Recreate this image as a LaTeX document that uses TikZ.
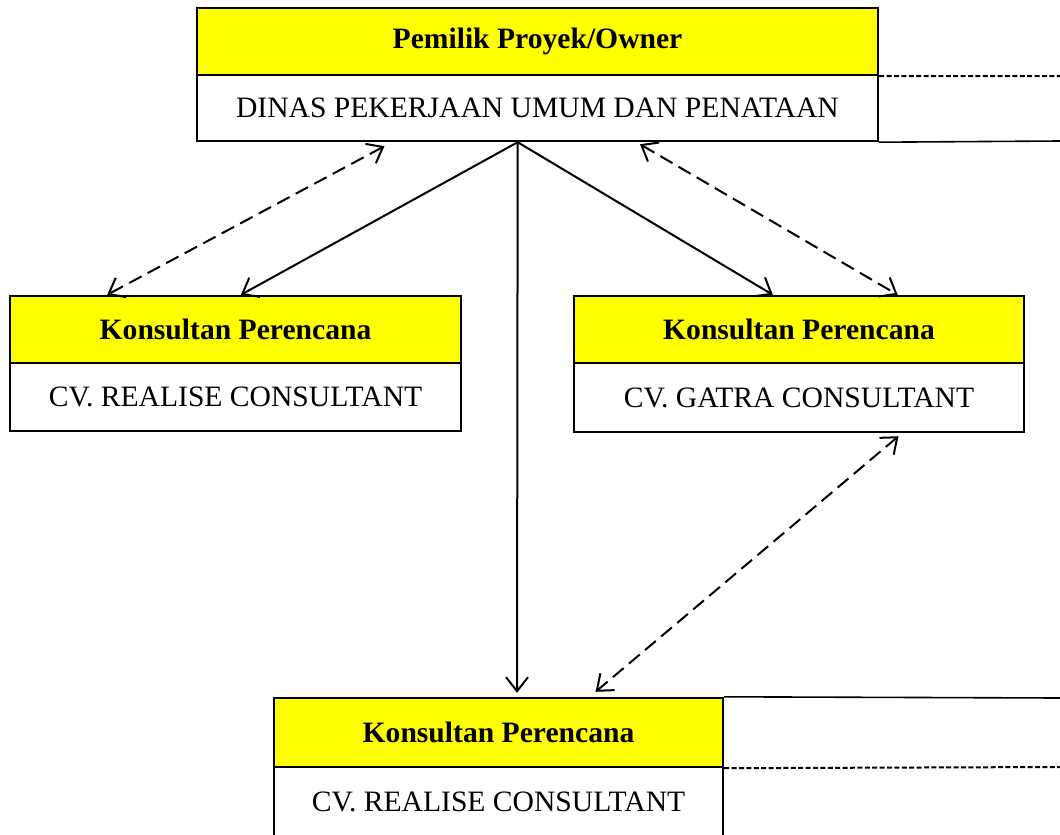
\documentclass[tikz,border=0pt]{standalone}
\usepackage{fontspec}
\setmainfont{Liberation Serif}
\usetikzlibrary{arrows.meta,calc}

\definecolor{hdryellow}{RGB}{255,255,0}

\tikzset{
  barb/.tip={Straight Barb[length=7pt,width=11pt,line width=1pt]},
  head/.style={draw, line width=1.2pt, fill=hdryellow, inner sep=0pt,
    font=\bfseries\fontsize{14.8}{16}\selectfont},
  body/.style={draw, line width=1.2pt, fill=white, inner sep=0pt,
    font=\fontsize{14.8}{16}\selectfont},
  link/.style={line width=1pt, -barb},
  dlink/.style={line width=1pt, barb-barb, dash pattern=on 7pt off 3.5pt},
  side/.style={line width=0.8pt},
  dside/.style={line width=1pt, dash pattern=on 2.5pt off 1.2pt},
}

\begin{document}
\begin{tikzpicture}[x=0.5pt, y=-0.5pt]
  \useasboundingbox (0,0) rectangle (1060,835);
  % owner
  \node[head, minimum width=340.5pt, minimum height=33.5pt] (ownerhead)
    at (537.5,41.5) {Pemilik Proyek/Owner};
  \node[body, minimum width=340.5pt, minimum height=33pt] (ownerbody)
    at (537.5,108) {DINAS PEKERJAAN UMUM DAN PENATAAN};
  % left consultant
  \node[head, minimum width=225.5pt, minimum height=33.5pt] (lefthead)
    at (235.5,329.5) {Konsultan Perencana};
  \node[body, minimum width=225.5pt, minimum height=34pt] (leftbody)
    at (235.5,397) {CV. REALISE CONSULTANT};
  % right consultant
  \node[head, minimum width=225pt, minimum height=33.5pt] (righthead)
    at (799,329.5) {Konsultan Perencana};
  \node[body, minimum width=225pt, minimum height=34.5pt] (rightbody)
    at (799,397.5) {CV. GATRA CONSULTANT};
  % bottom consultant
  \node[head, minimum width=224.5pt, minimum height=34.5pt] (bottomhead)
    at (498.5,732.5) {Konsultan Perencana};
  \node[body, minimum width=224.5pt, minimum height=35pt] (bottombody)
    at (498.5,802) {CV. REALISE CONSULTANT};

  \coordinate (e1) at (1060,76);
  \coordinate (e2) at (1060,141);
  \coordinate (e3) at (1060,698);
  \coordinate (e4) at (1060,767);

  \draw[dside] (ownerhead.south east) -- (e1);
  \draw[side] (ownerbody.south east) -- (e2);
  \draw[side] (bottomhead.north east) -- (e3);
  \draw[dside] (bottomhead.south east) -- (e4);

  % solid lines from owner
  \coordinate (src) at ($(ownerbody.south west)!.471!(ownerbody.south east)$);
  \draw[link] (src) -- ($(lefthead.north west)!.512!(lefthead.north east)$);
  \draw[link] (src) -- ($(righthead.north west)!.442!(righthead.north east)$);
  \draw[link] (src) -- ($(bottomhead.north west)!.541!(bottomhead.north east)+(0,-4)$);

  % dashed two-way lines
  \draw[dlink] ($(ownerbody.south west)!.276!(ownerbody.south east)+(0,4)$)
    -- ($(lefthead.north west)!.217!(lefthead.north east)$);
  \draw[dlink] ($(ownerbody.south west)!.65!(ownerbody.south east)+(0,2)$)
    -- ($(righthead.north west)!.718!(righthead.north east)$);
  \draw[dlink] ($(rightbody.south west)!.72!(rightbody.south east)+(0,3)$)
    -- ($(bottomhead.north west)!.715!(bottomhead.north east)+(0,-5)$);
\end{tikzpicture}
\end{document}
